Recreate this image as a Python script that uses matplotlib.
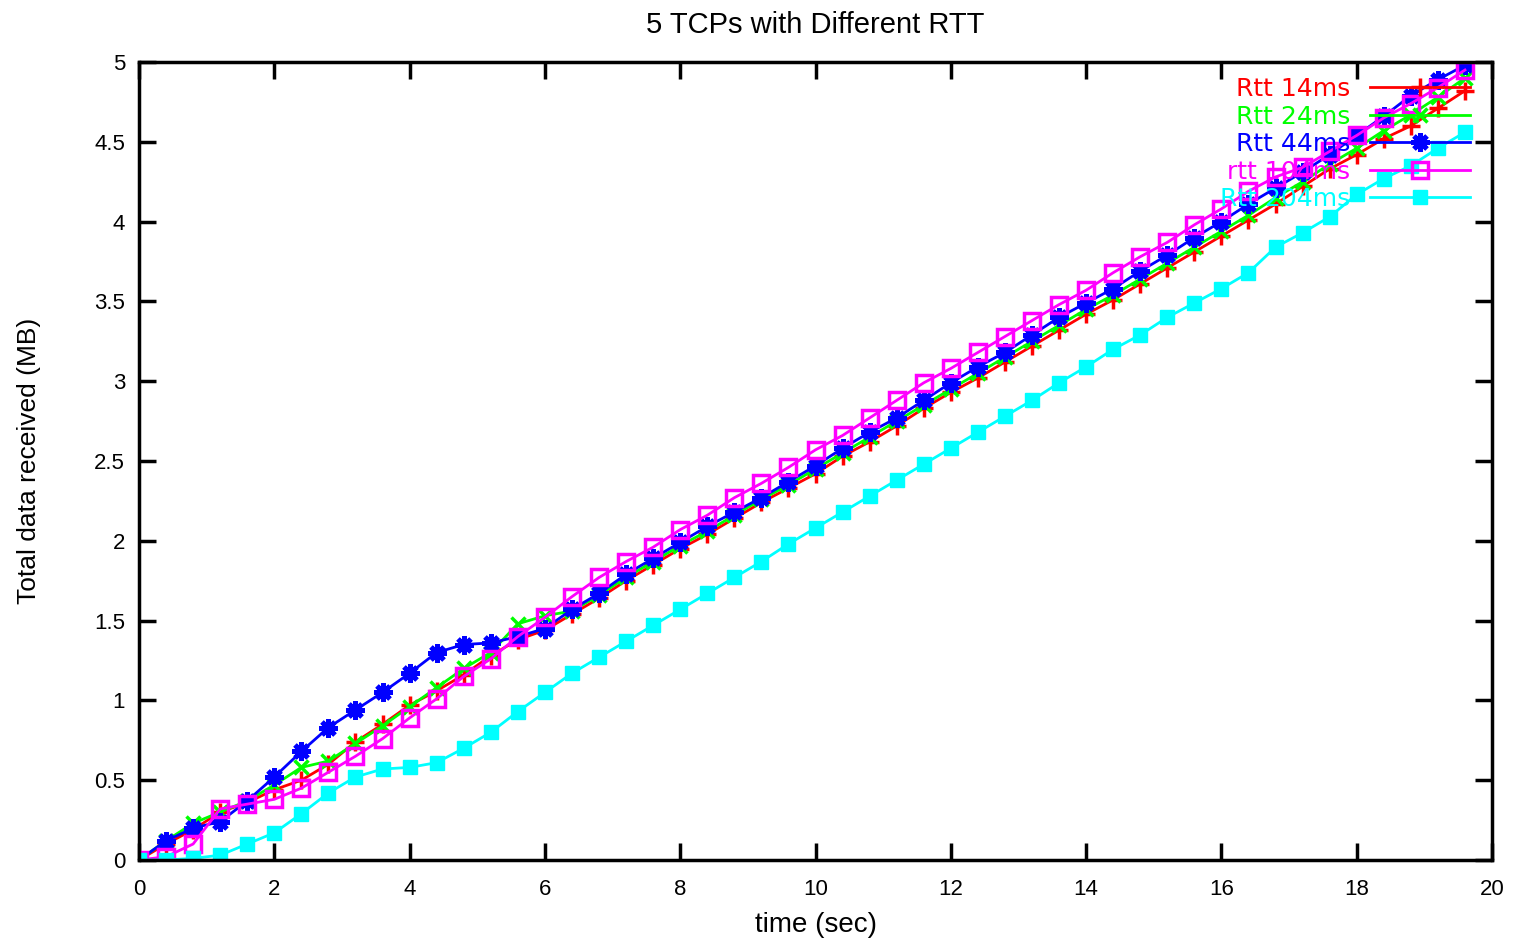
import matplotlib
matplotlib.use("Agg")
import matplotlib.pyplot as plt

plt.rcParams['font.family'] = ['Liberation Sans', 'DejaVu Sans']

# sample times (sec)
t = [0.0, 0.4, 0.8, 1.2, 1.6, 2.0, 2.4, 2.8, 3.2, 3.6,
     4.0, 4.4, 4.8, 5.2, 5.6, 6.0, 6.4, 6.8, 7.2, 7.6,
     8.0, 8.4, 8.8, 9.2, 9.6, 10.0, 10.4, 10.8, 11.2, 11.6,
     12.0, 12.4, 12.8, 13.2, 13.6, 14.0, 14.4, 14.8, 15.2, 15.6,
     16.0, 16.4, 16.8, 17.2, 17.6, 18.0, 18.4, 18.8, 19.2, 19.6]

# total data received (MB) per flow
rtt14 = [0.00, 0.10, 0.19, 0.30, 0.36, 0.44, 0.50, 0.60, 0.74, 0.85,
         0.97, 1.06, 1.16, 1.28, 1.38, 1.44, 1.54, 1.64, 1.75, 1.85,
         1.95, 2.04, 2.14, 2.24, 2.33, 2.42, 2.53, 2.62, 2.72, 2.83,
         2.93, 3.02, 3.12, 3.22, 3.32, 3.42, 3.51, 3.61, 3.71, 3.81,
         3.91, 4.01, 4.11, 4.22, 4.33, 4.42, 4.52, 4.60, 4.71, 4.82]
rtt24 = [0.00, 0.12, 0.23, 0.30, 0.37, 0.47, 0.58, 0.62, 0.73, 0.84,
         0.96, 1.08, 1.20, 1.30, 1.48, 1.53, 1.56, 1.66, 1.77, 1.87,
         1.97, 2.06, 2.16, 2.26, 2.35, 2.45, 2.55, 2.65, 2.75, 2.85,
         2.95, 3.05, 3.15, 3.25, 3.35, 3.45, 3.54, 3.64, 3.74, 3.84,
         3.94, 4.04, 4.15, 4.25, 4.36, 4.46, 4.57, 4.67, 4.78, 4.90]
rtt44 = [0.00, 0.12, 0.20, 0.24, 0.37, 0.52, 0.68, 0.83, 0.94, 1.05,
         1.17, 1.30, 1.35, 1.36, 1.40, 1.45, 1.57, 1.67, 1.79, 1.89,
         1.99, 2.09, 2.18, 2.27, 2.37, 2.47, 2.58, 2.68, 2.77, 2.88,
         2.99, 3.09, 3.18, 3.29, 3.40, 3.49, 3.58, 3.69, 3.79, 3.90,
         4.00, 4.11, 4.21, 4.31, 4.42, 4.54, 4.66, 4.79, 4.89, 4.98]
rtt104 = [0.00, 0.02, 0.10, 0.32, 0.35, 0.38, 0.45, 0.55, 0.65, 0.76,
          0.89, 1.01, 1.15, 1.26, 1.40, 1.52, 1.65, 1.77, 1.87, 1.96,
          2.07, 2.16, 2.27, 2.36, 2.46, 2.57, 2.66, 2.77, 2.88, 2.99,
          3.08, 3.18, 3.28, 3.38, 3.48, 3.57, 3.68, 3.78, 3.87, 3.98,
          4.08, 4.19, 4.28, 4.34, 4.44, 4.54, 4.65, 4.74, 4.84, 4.95]
rtt204 = [0.00, 0.00, 0.01, 0.03, 0.10, 0.17, 0.29, 0.42, 0.52, 0.57,
          0.58, 0.61, 0.70, 0.80, 0.93, 1.05, 1.17, 1.27, 1.37, 1.47,
          1.57, 1.67, 1.77, 1.87, 1.98, 2.08, 2.18, 2.28, 2.38, 2.48,
          2.58, 2.68, 2.78, 2.88, 2.99, 3.09, 3.20, 3.29, 3.40, 3.49,
          3.58, 3.68, 3.84, 3.93, 4.03, 4.17, 4.27, 4.35, 4.46, 4.56]

labels = ['Rtt 14ms', 'Rtt 24ms', 'Rtt 44ms', 'rtt 104ms', 'Rtt 204ms']
colors = ['#ff0000', '#00ff00', '#0000ff', '#ff00ff', '#00ffff']

fig = plt.figure(figsize=(15.14, 9.41), dpi=100)
ax = fig.add_axes([0.0918, 0.0861, 0.8937, 0.848])

ax.plot(t, rtt14, color=colors[0], lw=2, marker='+', ms=13, mew=2.5, label=labels[0])
ax.plot(t, rtt24, color=colors[1], lw=2, marker='x', ms=10, mew=2.5, label=labels[1])
ax.plot(t, rtt44, color=colors[2], lw=2, marker=(8, 2, 0), ms=13, mew=3.5, label=labels[2])
ax.plot(t, rtt104, color=colors[3], lw=2, marker='s', ms=11, mew=2.5, mfc='none', label=labels[3])
ax.plot(t, rtt204, color=colors[4], lw=2, marker='s', ms=10, mew=1, label=labels[4])

ax.set_xlim(0, 20)
ax.set_ylim(0, 5)
ax.set_xticks([0, 2, 4, 6, 8, 10, 12, 14, 16, 18, 20])
ax.set_yticks([0, 0.5, 1, 1.5, 2, 2.5, 3, 3.5, 4, 4.5, 5])
ax.set_yticklabels(['0', '0.5', '1', '1.5', '2', '2.5', '3', '3.5', '4', '4.5', '5'])
ax.tick_params(direction='in', length=12, width=2.5, top=True, right=True,
               labelsize=16, pad=10)
ax.tick_params(axis='x', pad=14)
for s in ax.spines.values():
    s.set_linewidth(2.5)

ax.set_title('5 TCPs with Different RTT', fontsize=21, pad=21)
ax.set_xlabel('time (sec)', fontsize=20, labelpad=8)
ax.set_ylabel('Total data received (MB)', fontsize=19, labelpad=38)

leg = ax.legend(loc='upper right', bbox_to_anchor=(0.995, 1.0), frameon=False,
                markerfirst=False, labelcolor='linecolor',
                prop={'family': 'DejaVu Sans', 'size': 18},
                handlelength=4.0, labelspacing=0.14, handletextpad=0.8,
                numpoints=1, borderaxespad=0.2)

fig.savefig('out.png', dpi=100)
